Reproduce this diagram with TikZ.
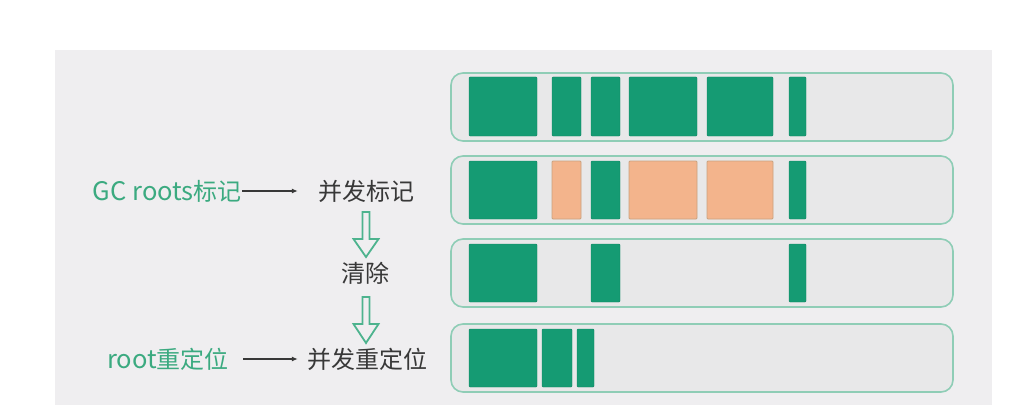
\documentclass[tikz,border=0pt]{standalone}
\usepackage{fontspec}
\setmainfont{Noto Sans CJK SC}
\usetikzlibrary{arrows.meta,calc}
\definecolor{panel}{HTML}{EFEEF0}
\definecolor{barfill}{HTML}{E8E8E9}
\definecolor{barline}{HTML}{8FCDB6}
\definecolor{gblock}{HTML}{159B73}
\definecolor{oblock}{HTML}{F3B48C}
\definecolor{oline}{HTML}{C9A27E}
\definecolor{gtext}{HTML}{3BAA80}
\definecolor{dtext}{HTML}{383838}
\definecolor{harrow}{HTML}{4DB38E}
\newcommand{\latinpart}[1]{{\fontsize{25.5}{28}\selectfont #1}}
\tikzset{
  bar/.style={draw=barline, fill=barfill, line width=1.6pt, rounded corners=12pt,
    minimum width=502pt, minimum height=68pt, inner sep=0pt},
  gblk/.style={fill=gblock, draw=gblock!85!black, line width=0.4pt, rounded corners=1pt},
  oblk/.style={fill=oblock, draw=oline, line width=0.8pt, rounded corners=1pt},
  lbl/.style={inner sep=0pt, font=\fontsize{24}{28}\selectfont},
  greenlbl/.style={lbl, text=gtext},
  darklbl/.style={lbl, text=dtext},
  conn/.style={draw=dtext, line width=1.4pt, -{Latex[length=6pt,width=5pt]}},
  hollow/.style={draw=harrow, line width=1.8pt, fill=panel, line join=miter}
}
\begin{document}
\begin{tikzpicture}[x=1pt,y=-1pt]
\useasboundingbox (0,0) rectangle (1034,412);
\fill[white] (0,0) rectangle (1034,412);
\fill[panel] (55,50) rectangle (992,405);

% memory bars
\node[bar] (bar1) at (702,107) {};
\node[bar] (bar2) at (702,190) {};
\node[bar] (bar3) at (702,273) {};
\node[bar] (bar4) at (702,358) {};

% bar 1
\draw[gblk] (469,77) rectangle (537,136);
\draw[gblk] (552,77) rectangle (581,136);
\draw[gblk] (591,77) rectangle (620,136);
\draw[gblk] (629,77) rectangle (697,136);
\draw[gblk] (707,77) rectangle (773,136);
\draw[gblk] (789,77) rectangle (806,136);
% bar 2
\draw[gblk] (469,161) rectangle (537,219);
\draw[oblk] (552,161) rectangle (581,219);
\draw[gblk] (591,161) rectangle (620,219);
\draw[oblk] (629,161) rectangle (697,219);
\draw[oblk] (707,161) rectangle (773,219);
\draw[gblk] (789,161) rectangle (806,219);
% bar 3
\draw[gblk] (469,244) rectangle (537,302);
\draw[gblk] (591,244) rectangle (620,302);
\draw[gblk] (789,244) rectangle (806,302);
% bar 4
\draw[gblk] (469,329) rectangle (537,387);
\draw[gblk] (542,329) rectangle (572,387);
\draw[gblk] (577,329) rectangle (594,387);

% labels
\node[greenlbl, anchor=east] (gcr) at (242,191) {\latinpart{GC roots}标记};
\node[darklbl] (mark) at (366,191) {并发标记};
\node[darklbl] (clear) at (365,273) {清除};
\node[darklbl] (reloc) at (367,359) {并发重定位};
\node[greenlbl, anchor=east] (rootr) at (229,359) {\latinpart{root}重定位};

% connectors
\draw[conn, shorten >=20pt] (gcr.east) -- (gcr.east -| mark.west);
\draw[conn, shorten <=14pt, shorten >=9pt] (rootr.east) -- (rootr.east -| reloc.west);

% hollow arrows
\coordinate (a1s) at (366,212);
\coordinate (a1t) at (366,257);
\coordinate (a2s) at (366,297);
\coordinate (a2t) at (366,343);
\draw[hollow] ($(a1s)+(-3.5,0)$) -- ($(a1t)+(-3.5,-18)$) -- ($(a1t)+(-12.5,-18)$) -- (a1t)
  -- ($(a1t)+(12.5,-18)$) -- ($(a1t)+(3.5,-18)$) -- ($(a1s)+(3.5,0)$) -- cycle;
\draw[hollow] ($(a2s)+(-3.5,0)$) -- ($(a2t)+(-3.5,-19)$) -- ($(a2t)+(-12.5,-19)$) -- (a2t)
  -- ($(a2t)+(12.5,-19)$) -- ($(a2t)+(3.5,-19)$) -- ($(a2s)+(3.5,0)$) -- cycle;
\end{tikzpicture}
\end{document}
